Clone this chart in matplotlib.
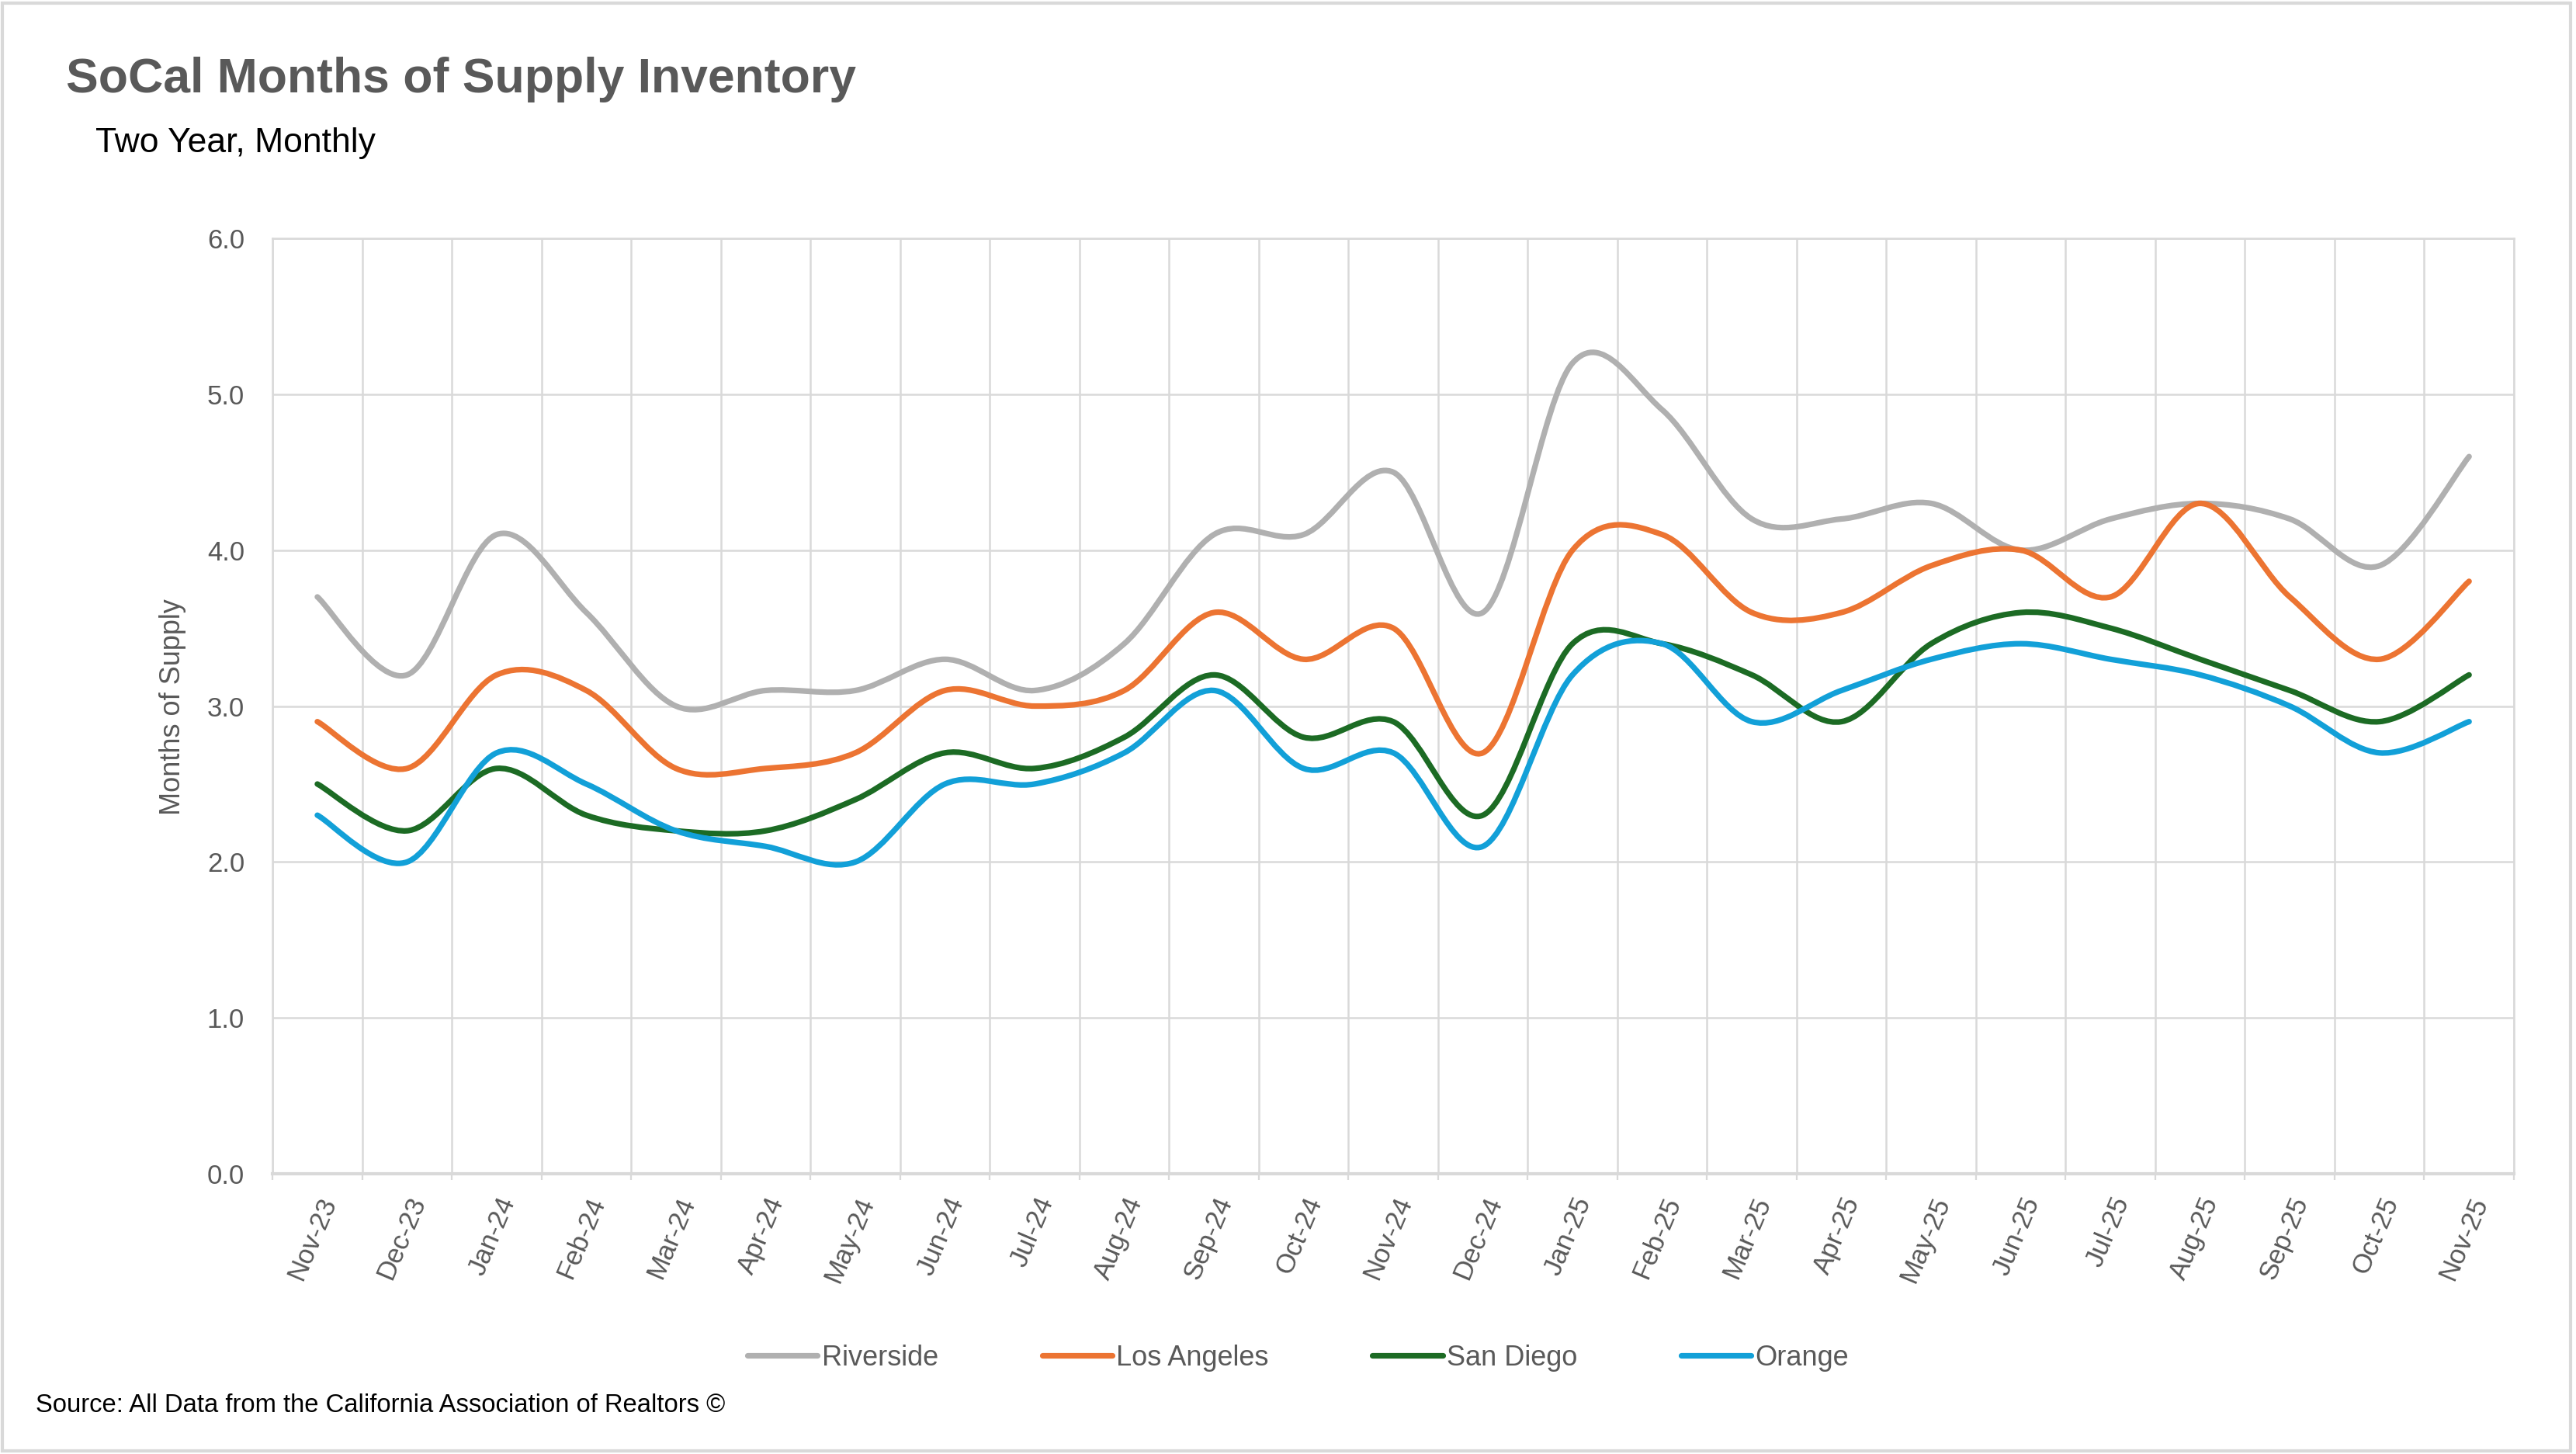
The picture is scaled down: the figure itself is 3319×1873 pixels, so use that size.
import matplotlib.pyplot as plt
from matplotlib.path import Path
from matplotlib.patches import PathPatch, Rectangle
from matplotlib.lines import Line2D

months = ["Nov-23", "Dec-23", "Jan-24", "Feb-24", "Mar-24", "Apr-24", "May-24",
          "Jun-24", "Jul-24", "Aug-24", "Sep-24", "Oct-24", "Nov-24", "Dec-24",
          "Jan-25", "Feb-25", "Mar-25", "Apr-25", "May-25", "Jun-25", "Jul-25",
          "Aug-25", "Sep-25", "Oct-25", "Nov-25"]
riverside = [3.7, 3.2, 4.1, 3.6, 3.0, 3.1, 3.1, 3.3, 3.1, 3.4, 4.1, 4.1, 4.5,
             3.6, 5.2, 4.9, 4.2, 4.2, 4.3, 4.0, 4.2, 4.3, 4.2, 3.9, 4.6]
los_angeles = [2.9, 2.6, 3.2, 3.1, 2.6, 2.6, 2.7, 3.1, 3.0, 3.1, 3.6, 3.3, 3.5,
               2.7, 4.0, 4.1, 3.6, 3.6, 3.9, 4.0, 3.7, 4.3, 3.7, 3.3, 3.8]
san_diego = [2.5, 2.2, 2.6, 2.3, 2.2, 2.2, 2.4, 2.7, 2.6, 2.8, 3.2, 2.8, 2.9,
             2.3, 3.4, 3.4, 3.2, 2.9, 3.4, 3.6, 3.5, 3.3, 3.1, 2.9, 3.2]
orange = [2.3, 2.0, 2.7, 2.5, 2.2, 2.1, 2.0, 2.5, 2.5, 2.7, 3.1, 2.6, 2.7,
          2.1, 3.2, 3.4, 2.9, 3.1, 3.3, 3.4, 3.3, 3.2, 3.0, 2.7, 2.9]

series = [("Riverside", riverside, "#B0B0B0"),
          ("Los Angeles", los_angeles, "#EC7432"),
          ("San Diego", san_diego, "#1C6B24"),
          ("Orange", orange, "#12A0D8")]

plt.rcParams['font.family'] = ['Liberation Sans Narrow', 'Liberation Sans', 'DejaVu Sans']

grid_c = "#D9D9D9"
text_c = "#595959"


def smooth_path(xs, ys, t=1 / 6):
    # Excel-like smoothed line: Catmull-Rom segments as cubic Bezier curves
    pts = list(zip(xs, ys))
    n = len(pts)
    verts = [pts[0]]
    codes = [Path.MOVETO]
    for i in range(n - 1):
        p0 = pts[i - 1] if i > 0 else pts[i]
        p1 = pts[i]
        p2 = pts[i + 1]
        p3 = pts[i + 2] if i + 2 < n else pts[i + 1]
        c1 = (p1[0] + (p2[0] - p0[0]) * t, p1[1] + (p2[1] - p0[1]) * t)
        c2 = (p2[0] - (p3[0] - p1[0]) * t, p2[1] - (p3[1] - p1[1]) * t)
        verts += [c1, c2, p2]
        codes += [Path.CURVE4] * 3
    return Path(verts, codes)


fig = plt.figure(figsize=(16.595, 9.365), dpi=200)
ax = fig.add_axes([0.1058, 0.1927, 0.8701, 0.6434])

x = list(range(len(months)))
for name, vals, col in series:
    ax.add_patch(PathPatch(smooth_path(x, vals), facecolor="none", edgecolor=col,
                           lw=2.6, capstyle="round", joinstyle="round", zorder=3))

ax.set_xlim(-0.5, len(months) - 0.5)
ax.set_ylim(0, 6)
ax.set_yticks([0, 1, 2, 3, 4, 5, 6])
ax.set_yticklabels([f"{v:.1f}" for v in range(7)])
ax.set_xticks(x)
ax.set_xticklabels(months, rotation=67, ha="right", rotation_mode="anchor")
ax.set_xticks([i - 0.5 for i in range(len(months) + 1)], minor=True)

ax.tick_params(axis="y", length=0, pad=13, labelsize=12.5, labelcolor=text_c)
ax.tick_params(axis="x", which="major", length=0, pad=9, labelsize=12.5, labelcolor=text_c)
ax.tick_params(axis="x", which="minor", length=3, width=0.8, color=grid_c)

ax.grid(axis="y", which="major", color=grid_c, lw=0.9)
ax.grid(axis="x", which="minor", color=grid_c, lw=0.9)
ax.set_axisbelow(True)
for s in ax.spines.values():
    s.set_color(grid_c)
    s.set_linewidth(0.9)
ax.spines["bottom"].set_linewidth(1.5)

fig.text(0.0256, 0.9455, "SoCal Months of Supply Inventory", fontsize=22.5,
         fontweight="bold", color=text_c, va="center", ha="left")
fig.text(0.037, 0.9017, "Two Year, Monthly", fontsize=16, color="black",
         va="center", ha="left")
fig.text(0.0669, 0.514, "Months of Supply", fontsize=13, color=text_c,
         rotation=90, va="center", ha="center")
fig.text(0.014, 0.0336, "Source: All Data from the California Association of Realtors \u00a9",
         fontsize=11.8, color="black", va="center", ha="left")

handles = [Line2D([0], [0], color=c, lw=2.6, solid_capstyle="round") for _, _, c in series]
leg = fig.legend(handles, [n for n, _, _ in series], loc="center",
                 bbox_to_anchor=(0.504, 0.066), ncol=4, frameon=False,
                 fontsize=13, handlelength=2.5, handletextpad=0.15, columnspacing=3.7)
for t in leg.get_texts():
    t.set_color(text_c)

fig.add_artist(Rectangle((0.001, 0.002), 0.997, 0.996, transform=fig.transFigure,
                         fill=False, edgecolor=grid_c, lw=1.5))

fig.savefig("out.png", dpi=200)
